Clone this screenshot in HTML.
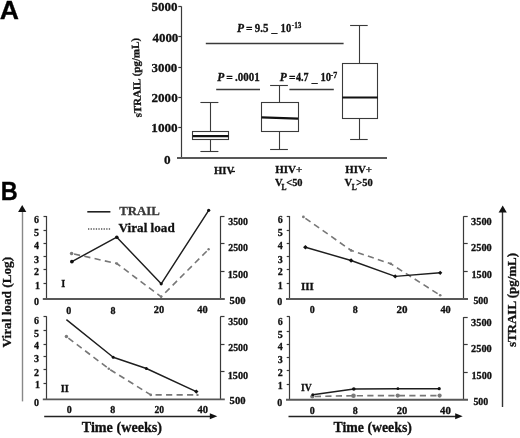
<!DOCTYPE html>
<html><head><meta charset="utf-8"><style>
html,body{margin:0;padding:0;background:#fff;width:520px;height:438px;overflow:hidden}
svg{display:block;will-change:transform;filter:blur(0.35px)}
text{font-family:"Liberation Serif",serif;font-weight:bold}
text.sans{font-family:"Liberation Sans",sans-serif}
</style></head><body>
<svg width="520" height="438" viewBox="0 0 520 438" fill="#111">
<line x1="181.5" y1="6.4" x2="181.5" y2="158.2" stroke="#3a3a3a" stroke-width="1.2" />
<line x1="177" y1="158" x2="387" y2="158" stroke="#585858" stroke-width="1.8" />
<line x1="178.3" y1="6.5" x2="181.5" y2="6.5" stroke="#3a3a3a" stroke-width="1.2" />
<line x1="178.3" y1="36.5" x2="181.5" y2="36.5" stroke="#3a3a3a" stroke-width="1.2" />
<line x1="178.3" y1="67.5" x2="181.5" y2="67.5" stroke="#3a3a3a" stroke-width="1.2" />
<line x1="178.3" y1="97.5" x2="181.5" y2="97.5" stroke="#3a3a3a" stroke-width="1.2" />
<line x1="178.3" y1="127.5" x2="181.5" y2="127.5" stroke="#3a3a3a" stroke-width="1.2" />
<rect x="192.5" y="131.5" width="36.0" height="8.0" fill="none" stroke="#3a3a3a" stroke-width="1.1"/>
<line x1="192.8" y1="136.2" x2="228.6" y2="136.2" stroke="#111" stroke-width="2.2" />
<line x1="210.5" y1="102.3" x2="210.5" y2="131.6" stroke="#3a3a3a" stroke-width="1.1" />
<line x1="210.5" y1="139.4" x2="210.5" y2="151.2" stroke="#3a3a3a" stroke-width="1.1" />
<line x1="200.4" y1="102.5" x2="218.4" y2="102.5" stroke="#3a3a3a" stroke-width="1.1" />
<line x1="200.4" y1="151.5" x2="218.4" y2="151.5" stroke="#3a3a3a" stroke-width="1.1" />
<rect x="261.5" y="102.5" width="37.0" height="29.0" fill="none" stroke="#3a3a3a" stroke-width="1.1"/>
<line x1="261.5" y1="117.4" x2="298.0" y2="118.6" stroke="#111" stroke-width="2.2" />
<line x1="279.5" y1="85.9" x2="279.5" y2="102.4" stroke="#3a3a3a" stroke-width="1.1" />
<line x1="279.5" y1="131.8" x2="279.5" y2="149.2" stroke="#3a3a3a" stroke-width="1.1" />
<line x1="270.1" y1="85.5" x2="287.9" y2="85.5" stroke="#3a3a3a" stroke-width="1.1" />
<line x1="270.1" y1="149.5" x2="287.9" y2="149.5" stroke="#3a3a3a" stroke-width="1.1" />
<rect x="342.5" y="63.5" width="35.0" height="55.0" fill="none" stroke="#3a3a3a" stroke-width="1.1"/>
<line x1="342.3" y1="97.5" x2="377.8" y2="97.5" stroke="#111" stroke-width="2.2" />
<line x1="359.5" y1="25.3" x2="359.5" y2="63.2" stroke="#3a3a3a" stroke-width="1.1" />
<line x1="359.5" y1="118.2" x2="359.5" y2="139.0" stroke="#3a3a3a" stroke-width="1.1" />
<line x1="350.1" y1="25.5" x2="367.7" y2="25.5" stroke="#3a3a3a" stroke-width="1.1" />
<line x1="350.1" y1="139.5" x2="367.7" y2="139.5" stroke="#3a3a3a" stroke-width="1.1" />
<line x1="205.8" y1="43.5" x2="343.6" y2="43.5" stroke="#3a3a3a" stroke-width="1.3" />
<line x1="216.2" y1="89.5" x2="260" y2="89.5" stroke="#3a3a3a" stroke-width="1.3" />
<line x1="289.4" y1="89.5" x2="333.8" y2="89.5" stroke="#3a3a3a" stroke-width="1.3" />
<line x1="231.7" y1="171.5" x2="235.0" y2="171.5" stroke="#111" stroke-width="1.3" />
<line x1="46.5" y1="216" x2="46.5" y2="299.0" stroke="#3a3a3a" stroke-width="1.2" />
<line x1="220.5" y1="216.3" x2="220.5" y2="299.0" stroke="#3a3a3a" stroke-width="1.2" />
<line x1="42.800000000000004" y1="299.0" x2="224.8" y2="299.0" stroke="#585858" stroke-width="1.9" />
<line x1="43.5" y1="216.5" x2="46.7" y2="216.5" stroke="#3a3a3a" stroke-width="1.2" />
<line x1="43.5" y1="230.5" x2="46.7" y2="230.5" stroke="#3a3a3a" stroke-width="1.2" />
<line x1="43.5" y1="243.5" x2="46.7" y2="243.5" stroke="#3a3a3a" stroke-width="1.2" />
<line x1="43.5" y1="256.5" x2="46.7" y2="256.5" stroke="#3a3a3a" stroke-width="1.2" />
<line x1="43.5" y1="269.5" x2="46.7" y2="269.5" stroke="#3a3a3a" stroke-width="1.2" />
<line x1="43.5" y1="283.5" x2="46.7" y2="283.5" stroke="#3a3a3a" stroke-width="1.2" />
<line x1="220.3" y1="216.5" x2="224.5" y2="216.5" stroke="#3a3a3a" stroke-width="1.2" />
<line x1="220.3" y1="243.5" x2="224.5" y2="243.5" stroke="#3a3a3a" stroke-width="1.2" />
<line x1="220.3" y1="271.5" x2="224.5" y2="271.5" stroke="#3a3a3a" stroke-width="1.2" />
<polyline points="71.6,253.5 116.8,263.5 161.2,296.8 208.6,249.3" fill="none" stroke="#777" stroke-width="1.6" stroke-linejoin="round" stroke-dasharray="6.2 4.3" stroke-dashoffset="8"/>
<polyline points="71.9,261.6 116.8,237.2 161.2,283.8 208.7,210.3" fill="none" stroke="#1e1e1e" stroke-width="1.45" stroke-linejoin="round" />
<circle cx="71.6" cy="253.5" r="1.8" fill="#7a7a7a"/>
<circle cx="116.8" cy="263.5" r="1.3" fill="#7a7a7a"/>
<circle cx="161.2" cy="296.8" r="1.2" fill="#7a7a7a"/>
<circle cx="208.6" cy="249.3" r="1.2" fill="#7a7a7a"/>
<circle cx="71.9" cy="261.6" r="1.9" fill="#111"/>
<circle cx="116.8" cy="237.2" r="1.8" fill="#111"/>
<circle cx="161.2" cy="283.8" r="1.6" fill="#111"/>
<circle cx="208.7" cy="210.3" r="1.6" fill="#111"/>
<line x1="46.5" y1="316.4" x2="46.5" y2="399.4" stroke="#3a3a3a" stroke-width="1.2" />
<line x1="220.5" y1="316.70000000000005" x2="220.5" y2="399.4" stroke="#3a3a3a" stroke-width="1.2" />
<line x1="42.800000000000004" y1="399.4" x2="224.8" y2="399.4" stroke="#585858" stroke-width="1.9" />
<line x1="43.5" y1="316.5" x2="46.7" y2="316.5" stroke="#3a3a3a" stroke-width="1.2" />
<line x1="43.5" y1="330.5" x2="46.7" y2="330.5" stroke="#3a3a3a" stroke-width="1.2" />
<line x1="43.5" y1="344.5" x2="46.7" y2="344.5" stroke="#3a3a3a" stroke-width="1.2" />
<line x1="43.5" y1="356.5" x2="46.7" y2="356.5" stroke="#3a3a3a" stroke-width="1.2" />
<line x1="43.5" y1="369.5" x2="46.7" y2="369.5" stroke="#3a3a3a" stroke-width="1.2" />
<line x1="43.5" y1="383.5" x2="46.7" y2="383.5" stroke="#3a3a3a" stroke-width="1.2" />
<line x1="220.3" y1="316.5" x2="224.5" y2="316.5" stroke="#3a3a3a" stroke-width="1.2" />
<line x1="220.3" y1="344.5" x2="224.5" y2="344.5" stroke="#3a3a3a" stroke-width="1.2" />
<line x1="220.3" y1="371.5" x2="224.5" y2="371.5" stroke="#3a3a3a" stroke-width="1.2" />
<polyline points="66.4,336.5 108.8,368.8 150.8,394.9 197.5,394.9" fill="none" stroke="#777" stroke-width="1.6" stroke-linejoin="round" stroke-dasharray="6.2 4.3" stroke-dashoffset="8"/>
<polyline points="66.4,319.6 113.2,357.2 146.4,368.5 196.3,391.6" fill="none" stroke="#1e1e1e" stroke-width="1.45" stroke-linejoin="round" />
<circle cx="66.4" cy="336.5" r="1.7" fill="#7a7a7a"/>
<circle cx="108.8" cy="368.8" r="1.3" fill="#7a7a7a"/>
<circle cx="150.8" cy="394.9" r="1.3" fill="#7a7a7a"/>
<circle cx="197.5" cy="394.9" r="1.2" fill="#7a7a7a"/>
<circle cx="113.2" cy="357.2" r="1.5" fill="#111"/>
<circle cx="146.4" cy="368.5" r="1.5" fill="#111"/>
<path d="M194.10000000000002,391.6 L196.3,389.40000000000003 L198.5,391.6 L196.3,393.8Z" fill="#111"/>
<line x1="289.5" y1="216" x2="289.5" y2="299.0" stroke="#3a3a3a" stroke-width="1.2" />
<line x1="463.5" y1="216.3" x2="463.5" y2="299.0" stroke="#3a3a3a" stroke-width="1.2" />
<line x1="286.0" y1="299.0" x2="468.0" y2="299.0" stroke="#585858" stroke-width="1.9" />
<line x1="286.7" y1="216.5" x2="289.9" y2="216.5" stroke="#3a3a3a" stroke-width="1.2" />
<line x1="286.7" y1="230.5" x2="289.9" y2="230.5" stroke="#3a3a3a" stroke-width="1.2" />
<line x1="286.7" y1="243.5" x2="289.9" y2="243.5" stroke="#3a3a3a" stroke-width="1.2" />
<line x1="286.7" y1="256.5" x2="289.9" y2="256.5" stroke="#3a3a3a" stroke-width="1.2" />
<line x1="286.7" y1="269.5" x2="289.9" y2="269.5" stroke="#3a3a3a" stroke-width="1.2" />
<line x1="286.7" y1="283.5" x2="289.9" y2="283.5" stroke="#3a3a3a" stroke-width="1.2" />
<line x1="463.5" y1="216.5" x2="467.7" y2="216.5" stroke="#3a3a3a" stroke-width="1.2" />
<line x1="463.5" y1="243.5" x2="467.7" y2="243.5" stroke="#3a3a3a" stroke-width="1.2" />
<line x1="463.5" y1="271.5" x2="467.7" y2="271.5" stroke="#3a3a3a" stroke-width="1.2" />
<polyline points="303.4,216.9 351.1,250.4 390.8,263.8 440.2,295.3" fill="none" stroke="#777" stroke-width="1.6" stroke-linejoin="round" stroke-dasharray="6.2 4.3" stroke-dashoffset="8"/>
<polyline points="305.4,247.2 351.1,260.5 395.2,276.4 440.2,272.8" fill="none" stroke="#1e1e1e" stroke-width="1.45" stroke-linejoin="round" />
<circle cx="303.4" cy="216.9" r="1.4" fill="#7a7a7a"/>
<circle cx="351.1" cy="250.4" r="1.3" fill="#7a7a7a"/>
<circle cx="390.8" cy="263.8" r="1.3" fill="#7a7a7a"/>
<circle cx="440.2" cy="295.3" r="1.3" fill="#7a7a7a"/>
<path d="M303.09999999999997,247.2 L305.4,244.89999999999998 L307.7,247.2 L305.4,249.5Z" fill="#111"/>
<path d="M348.8,260.5 L351.1,258.2 L353.40000000000003,260.5 L351.1,262.8Z" fill="#111"/>
<path d="M393.09999999999997,276.4 L395.2,274.29999999999995 L397.3,276.4 L395.2,278.5Z" fill="#111"/>
<path d="M438.09999999999997,272.8 L440.2,270.7 L442.3,272.8 L440.2,274.90000000000003Z" fill="#111"/>
<line x1="289.5" y1="316.8" x2="289.5" y2="399.8" stroke="#3a3a3a" stroke-width="1.2" />
<line x1="463.5" y1="317.1" x2="463.5" y2="399.8" stroke="#3a3a3a" stroke-width="1.2" />
<line x1="286.0" y1="399.8" x2="468.0" y2="399.8" stroke="#585858" stroke-width="1.9" />
<line x1="286.7" y1="316.5" x2="289.9" y2="316.5" stroke="#3a3a3a" stroke-width="1.2" />
<line x1="286.7" y1="331.5" x2="289.9" y2="331.5" stroke="#3a3a3a" stroke-width="1.2" />
<line x1="286.7" y1="344.5" x2="289.9" y2="344.5" stroke="#3a3a3a" stroke-width="1.2" />
<line x1="286.7" y1="357.5" x2="289.9" y2="357.5" stroke="#3a3a3a" stroke-width="1.2" />
<line x1="286.7" y1="370.5" x2="289.9" y2="370.5" stroke="#3a3a3a" stroke-width="1.2" />
<line x1="286.7" y1="384.5" x2="289.9" y2="384.5" stroke="#3a3a3a" stroke-width="1.2" />
<line x1="463.5" y1="317.5" x2="467.7" y2="317.5" stroke="#3a3a3a" stroke-width="1.2" />
<line x1="463.5" y1="344.5" x2="467.7" y2="344.5" stroke="#3a3a3a" stroke-width="1.2" />
<line x1="463.5" y1="372.5" x2="467.7" y2="372.5" stroke="#3a3a3a" stroke-width="1.2" />
<polyline points="312.3,396.5 353.5,395.7 397.7,395.6 439.6,395.6" fill="none" stroke="#777" stroke-width="1.6" stroke-linejoin="round" stroke-dasharray="6.2 4.3" stroke-dashoffset="8"/>
<polyline points="312.8,394.8 353.8,389.0 397.9,388.7 439.2,388.7" fill="none" stroke="#1e1e1e" stroke-width="1.45" stroke-linejoin="round" />
<circle cx="312.3" cy="396.5" r="2.1" fill="#7a7a7a"/>
<circle cx="353.5" cy="395.7" r="2.3" fill="#7a7a7a"/>
<circle cx="397.7" cy="395.6" r="2.1" fill="#7a7a7a"/>
<circle cx="439.6" cy="395.6" r="2.1" fill="#7a7a7a"/>
<circle cx="312.8" cy="394.8" r="1.5" fill="#111"/>
<circle cx="353.8" cy="389.0" r="1.8" fill="#111"/>
<circle cx="397.9" cy="388.7" r="1.4" fill="#111"/>
<circle cx="439.2" cy="388.7" r="1.6" fill="#111"/>
<line x1="87.3" y1="211.8" x2="110.4" y2="211.8" stroke="#222" stroke-width="1.6" />
<line x1="88" y1="229" x2="111.3" y2="229" stroke="#555" stroke-width="1.3" stroke-dasharray="1.3 1.3"/>
<line x1="44.2" y1="416.5" x2="211.3" y2="416.5" stroke="#222" stroke-width="1.4" />
<path d="M209.8,413.3 L217.3,416.3 L209.8,419.3Z" fill="#111"/>
<line x1="288.5" y1="416.5" x2="456.7" y2="416.5" stroke="#222" stroke-width="1.4" />
<path d="M455.2,413.2 L462.7,416.2 L455.2,419.2Z" fill="#111"/>
<line x1="22.5" y1="211.1" x2="22.5" y2="401.4" stroke="#888" stroke-width="1.4" />
<path d="M18.1,212.1 L22.2,205.1 L26.299999999999997,212.1Z" fill="#111"/>
<line x1="502.5" y1="211.5" x2="502.5" y2="407" stroke="#333" stroke-width="1.4" />
<path d="M498.59999999999997,212.5 L502.7,205.5 L506.8,212.5Z" fill="#111"/>
<g stroke="#111" stroke-width="0.3">
<text transform="translate(140.1,77.6) rotate(-92)" font-size="10.8" text-anchor="middle" textLength="79.4" lengthAdjust="spacingAndGlyphs">sTRAIL (pg/mL)</text>
<text transform="translate(10.6,302.2) rotate(-90)" font-size="12.8" text-anchor="middle" textLength="90.6" lengthAdjust="spacingAndGlyphs">Viral load (Log)</text>
<text transform="translate(516.3,300) rotate(-90)" font-size="12.8" text-anchor="middle" textLength="94.2" lengthAdjust="spacingAndGlyphs">sTRAIL&#8201;(pg/mL)</text>
<text x="151.50" y="11.00" font-size="13.2" textLength="26.00" lengthAdjust="spacingAndGlyphs">5000</text>
<text x="152.50" y="41.50" font-size="13.2" textLength="25.80" lengthAdjust="spacingAndGlyphs">4000</text>
<text x="151.50" y="71.70" font-size="13.2" textLength="25.80" lengthAdjust="spacingAndGlyphs">3000</text>
<text x="151.50" y="101.70" font-size="13.2" textLength="26.20" lengthAdjust="spacingAndGlyphs">2000</text>
<text x="151.30" y="132.00" font-size="13.2" textLength="26.40" lengthAdjust="spacingAndGlyphs">1000</text>
<text x="164.05" y="163.80" font-size="13.2">0</text>
<text x="236.95" y="31.50" font-size="11.5" font-style="italic">P</text>
<text x="246.00" y="32.50" font-size="11.5">=</text>
<text x="254.80" y="31.80" font-size="11.5" textLength="13.60" lengthAdjust="spacingAndGlyphs">9.5</text>
<text x="271.50" y="31.80" font-size="11.5">_</text>
<text x="280.60" y="31.70" font-size="11.5" textLength="10.60" lengthAdjust="spacingAndGlyphs">10</text>
<text x="291.80" y="28.00" font-size="7.6" textLength="9.60" lengthAdjust="spacingAndGlyphs">-13</text>
<text x="217.15" y="80.80" font-size="11.5" font-style="italic">P</text>
<text x="226.30" y="81.90" font-size="11.5">=</text>
<text x="235.00" y="81.20" font-size="11.5" textLength="24.60" lengthAdjust="spacingAndGlyphs">.0001</text>
<text x="279.80" y="81.00" font-size="11.5" font-style="italic">P</text>
<text x="288.90" y="82.20" font-size="11.5">=</text>
<text x="296.00" y="81.00" font-size="11.5" textLength="12.60" lengthAdjust="spacingAndGlyphs">4.7</text>
<text x="311.75" y="81.60" font-size="11.5">_</text>
<text x="320.40" y="81.20" font-size="11.5" textLength="10.60" lengthAdjust="spacingAndGlyphs">10</text>
<text x="330.60" y="77.80" font-size="7.6" textLength="6.60" lengthAdjust="spacingAndGlyphs">-7</text>
<text x="214.00" y="173.50" font-size="10.6" textLength="20.20" lengthAdjust="spacingAndGlyphs">HIV</text>
<text x="275.20" y="173.40" font-size="10.6" textLength="27.00" lengthAdjust="spacingAndGlyphs">HIV+</text>
<text x="345.30" y="173.40" font-size="10.6" textLength="26.70" lengthAdjust="spacingAndGlyphs">HIV+</text>
<text x="274.90" y="186.40" font-size="10.6">V</text>
<text x="281.60" y="190.00" font-size="7.5">L</text>
<text x="286.20" y="186.40" font-size="10.6" textLength="16.40" lengthAdjust="spacingAndGlyphs">&lt;50</text>
<text x="344.50" y="186.40" font-size="10.6">V</text>
<text x="351.70" y="190.00" font-size="7.5">L</text>
<text x="356.30" y="186.40" font-size="10.6" textLength="16.50" lengthAdjust="spacingAndGlyphs">&gt;50</text>
<text x="39.00" y="223.30" font-size="10" text-anchor="end">6</text>
<text x="39.00" y="236.30" font-size="10" text-anchor="end">5</text>
<text x="39.00" y="249.10" font-size="10" text-anchor="end">4</text>
<text x="39.00" y="262.60" font-size="10" text-anchor="end">3</text>
<text x="39.00" y="274.80" font-size="10" text-anchor="end">2</text>
<text x="40.00" y="288.60" font-size="10" text-anchor="end">1</text>
<text x="34.00" y="305.40" font-size="10">0</text>
<text x="228.30" y="224.80" font-size="10" textLength="19.60" lengthAdjust="spacingAndGlyphs">3500</text>
<text x="228.30" y="250.80" font-size="10" textLength="19.60" lengthAdjust="spacingAndGlyphs">2500</text>
<text x="227.70" y="278.20" font-size="10" textLength="20.40" lengthAdjust="spacingAndGlyphs">1500</text>
<text x="229.60" y="303.80" font-size="10" textLength="15.90" lengthAdjust="spacingAndGlyphs">500</text>
<text x="66.25" y="313.60" font-size="10">0</text>
<text x="110.40" y="313.60" font-size="10">8</text>
<text x="153.80" y="313.00" font-size="10" textLength="10.40" lengthAdjust="spacingAndGlyphs">20</text>
<text x="197.20" y="313.00" font-size="10" textLength="10.40" lengthAdjust="spacingAndGlyphs">40</text>
<text x="39.00" y="324.00" font-size="10" text-anchor="end">6</text>
<text x="39.00" y="337.00" font-size="10" text-anchor="end">5</text>
<text x="39.00" y="348.80" font-size="10" text-anchor="end">4</text>
<text x="39.00" y="362.30" font-size="10" text-anchor="end">3</text>
<text x="39.00" y="375.50" font-size="10" text-anchor="end">2</text>
<text x="40.00" y="388.30" font-size="10" text-anchor="end">1</text>
<text x="34.00" y="405.80" font-size="10">0</text>
<text x="228.30" y="325.20" font-size="10" textLength="19.60" lengthAdjust="spacingAndGlyphs">3500</text>
<text x="228.30" y="351.20" font-size="10" textLength="19.60" lengthAdjust="spacingAndGlyphs">2500</text>
<text x="227.70" y="378.60" font-size="10" textLength="20.40" lengthAdjust="spacingAndGlyphs">1500</text>
<text x="229.60" y="404.20" font-size="10" textLength="15.90" lengthAdjust="spacingAndGlyphs">500</text>
<text x="66.70" y="413.00" font-size="10">0</text>
<text x="110.30" y="413.00" font-size="10">8</text>
<text x="154.40" y="413.00" font-size="10" textLength="9.60" lengthAdjust="spacingAndGlyphs">20</text>
<text x="197.50" y="413.00" font-size="10" textLength="10.50" lengthAdjust="spacingAndGlyphs">40</text>
<text x="282.80" y="223.30" font-size="10" text-anchor="end">6</text>
<text x="282.80" y="236.30" font-size="10" text-anchor="end">5</text>
<text x="282.80" y="249.10" font-size="10" text-anchor="end">4</text>
<text x="282.80" y="262.60" font-size="10" text-anchor="end">3</text>
<text x="282.80" y="274.80" font-size="10" text-anchor="end">2</text>
<text x="282.80" y="288.60" font-size="10" text-anchor="end">1</text>
<text x="277.30" y="305.40" font-size="10">0</text>
<text x="471.10" y="224.80" font-size="10" textLength="20.60" lengthAdjust="spacingAndGlyphs">3500</text>
<text x="471.10" y="250.80" font-size="10" textLength="20.60" lengthAdjust="spacingAndGlyphs">2500</text>
<text x="471.50" y="278.20" font-size="10" textLength="20.40" lengthAdjust="spacingAndGlyphs">1500</text>
<text x="473.40" y="303.80" font-size="10" textLength="14.90" lengthAdjust="spacingAndGlyphs">500</text>
<text x="309.70" y="313.00" font-size="10">0</text>
<text x="352.85" y="313.00" font-size="10">8</text>
<text x="396.60" y="313.00" font-size="10" textLength="11.00" lengthAdjust="spacingAndGlyphs">20</text>
<text x="440.40" y="313.00" font-size="10" textLength="10.30" lengthAdjust="spacingAndGlyphs">40</text>
<text x="282.80" y="324.70" font-size="10" text-anchor="end">6</text>
<text x="282.80" y="337.70" font-size="10" text-anchor="end">5</text>
<text x="282.80" y="349.50" font-size="10" text-anchor="end">4</text>
<text x="282.80" y="363.00" font-size="10" text-anchor="end">3</text>
<text x="282.80" y="376.20" font-size="10" text-anchor="end">2</text>
<text x="282.80" y="389.00" font-size="10" text-anchor="end">1</text>
<text x="277.30" y="406.20" font-size="10">0</text>
<text x="471.10" y="325.60" font-size="10" textLength="20.60" lengthAdjust="spacingAndGlyphs">3500</text>
<text x="471.10" y="351.60" font-size="10" textLength="20.60" lengthAdjust="spacingAndGlyphs">2500</text>
<text x="471.50" y="379.00" font-size="10" textLength="20.40" lengthAdjust="spacingAndGlyphs">1500</text>
<text x="473.40" y="404.60" font-size="10" textLength="14.90" lengthAdjust="spacingAndGlyphs">500</text>
<text x="309.70" y="414.20" font-size="10">0</text>
<text x="352.70" y="414.20" font-size="10">8</text>
<text x="396.70" y="414.20" font-size="10" textLength="10.60" lengthAdjust="spacingAndGlyphs">20</text>
<text x="440.00" y="414.20" font-size="10" textLength="10.80" lengthAdjust="spacingAndGlyphs">40</text>
<text x="61.30" y="287.20" font-size="10.2">I</text>
<text x="60.80" y="392.20" font-size="10.2" textLength="8.10" lengthAdjust="spacingAndGlyphs">II</text>
<text x="301.00" y="289.60" font-size="10.2" textLength="12.80" lengthAdjust="spacingAndGlyphs">III</text>
<text x="301.10" y="391.00" font-size="10.2" textLength="10.70" lengthAdjust="spacingAndGlyphs">IV</text>
<text x="119.20" y="215.40" font-size="13.1" fill="#383838" stroke="#383838" textLength="40.60" lengthAdjust="spacingAndGlyphs">TRAIL</text>
<text x="118.60" y="232.40" font-size="12.8" textLength="56.10" lengthAdjust="spacingAndGlyphs">Viral load</text>
<text x="81.70" y="432.00" font-size="14" textLength="80.40" lengthAdjust="spacingAndGlyphs">Time (weeks)</text>
<text x="333.50" y="432.20" font-size="14" textLength="78.40" lengthAdjust="spacingAndGlyphs">Time (weeks)</text>
<text x="-0.20" y="18.60" font-size="25.5" fill="#000" stroke="#000" textLength="19.20" lengthAdjust="spacingAndGlyphs" class="sans">A</text>
<text x="0.80" y="199.70" font-size="25.5" fill="#000" stroke="#000" textLength="17.00" lengthAdjust="spacingAndGlyphs" class="sans">B</text>
</g>
</svg>
</body></html>
